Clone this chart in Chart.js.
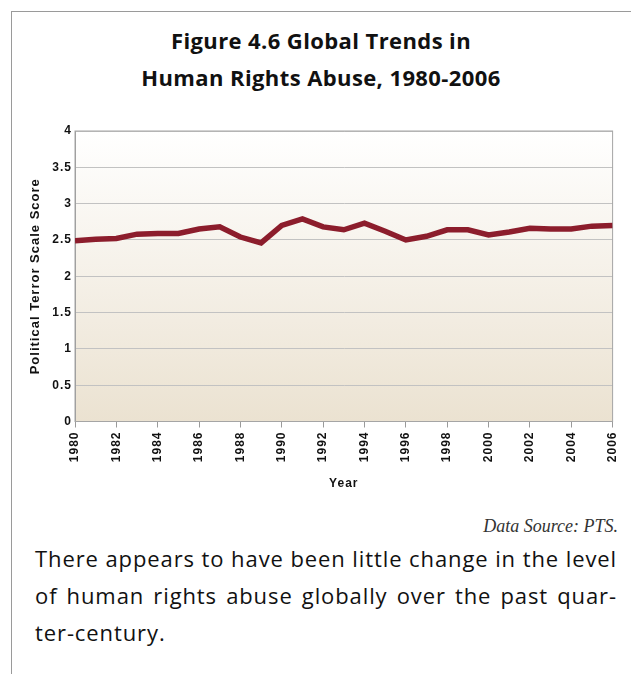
<!DOCTYPE html>
<html>
<head>
<meta charset="utf-8">
<script src="https://cdn.jsdelivr.net/npm/chart.js@4"></script>
<style>
  html, body { margin: 0; padding: 0; background: #fff; }
  body { width: 631px; height: 674px; position: relative; overflow: hidden; }
  .frame {
    position: absolute; left: 11px; top: 11px; width: 700px; height: 700px;
    border-top: 1px solid #9a9a9a; border-left: 1px solid #9a9a9a;
  }
  .title {
    position: absolute; left: 11px; top: 22px; width: 620px;
    text-align: center; font-family: "Open Sans", sans-serif; font-weight: 700;
    font-size: 22px; line-height: 37px; letter-spacing: 0.4px; color: #111;
  }
  .chart-box { position: absolute; left: 12px; top: 110px; width: 619px; height: 390px; }
  .source {
    position: absolute; right: 13px; top: 516px;
    font-family: "Liberation Serif", serif; font-style: italic;
    font-size: 18px; line-height: 20px; color: #333;
  }
  .body-text {
    position: absolute; left: 35px; top: 540px; width: 582px;
    font-family: "Open Sans", sans-serif; font-size: 22px; line-height: 37px;
    letter-spacing: 0.9px; color: #111;
  }
  .body-text span { display: block; text-align: justify; text-align-last: justify; }
  .body-text span.last { text-align-last: left; }
</style>
</head>
<body>
<div class="frame"></div>
<div class="title">Figure 4.6 Global Trends in<br>Human Rights Abuse, 1980-2006</div>
<div class="chart-box"><canvas id="chart"></canvas></div>
<div class="source">Data Source: PTS.</div>
<div class="body-text">
  <span>There appears to have been little change in the level</span>
  <span>of human rights abuse globally over the past quar-</span>
  <span class="last">ter-century.</span>
</div>
<script>
// Political Terror Scale, global average
const years = [1980, 1981, 1982, 1983, 1984, 1985, 1986, 1987, 1988, 1989,
  1990, 1991, 1992, 1993, 1994, 1995, 1996, 1997, 1998, 1999,
  2000, 2001, 2002, 2003, 2004, 2005, 2006];
const ptsScores = [2.49, 2.51, 2.52, 2.58, 2.59, 2.59, 2.65, 2.68, 2.54, 2.46,
  2.70, 2.79, 2.68, 2.64, 2.73, 2.62, 2.50, 2.55, 2.64, 2.64,
  2.57, 2.61, 2.66, 2.65, 2.65, 2.69, 2.70];
const yTickValues = [0, 0.5, 1, 1.5, 2, 2.5, 3, 3.5, 4];

const axisFont = { family: '"Liberation Sans", Arial, sans-serif', size: 12, weight: 'bold' };

// gradient fill behind the plot + box around it
const plotBackground = {
  id: 'plotBackground',
  beforeLayout(chart) { chart.ctx.letterSpacing = '1px'; },
  beforeDraw(chart) {
    const { ctx, chartArea: a } = chart;
    ctx.letterSpacing = '1px';
    const g = ctx.createLinearGradient(0, a.top, 0, a.bottom);
    g.addColorStop(0, '#ffffff');
    g.addColorStop(1, '#ebe2d1');
    ctx.save();
    ctx.fillStyle = g;
    ctx.fillRect(a.left, a.top, a.right - a.left, a.bottom - a.top);
    ctx.restore();
  },
  beforeDatasetsDraw(chart) {
    const { ctx, chartArea: a } = chart;
    ctx.save();
    ctx.strokeStyle = '#a5a5a5';
    ctx.lineWidth = 1;
    ctx.strokeRect(a.left, a.top, a.right - a.left, a.bottom - a.top);
    ctx.restore();
  }
};

new Chart(document.getElementById('chart'), {
  type: 'line',
  data: {
    datasets: [{
      data: years.map((y, i) => ({ x: y, y: ptsScores[i] })),
      borderColor: '#8c1d2c',
      borderWidth: 5.5,
      pointRadius: 0,
      tension: 0,
      fill: false
    }]
  },
  options: {
    responsive: true,
    maintainAspectRatio: false,
    animation: false,
    layout: { padding: { top: 21, right: 12, left: 0, bottom: 0 } },
    scales: {
      x: {
        type: 'linear',
        min: 1980,
        max: 2006,
        afterFit: s => { s.height = 78.5; },
        ticks: {
          stepSize: 2,
          autoSkip: false,
          minRotation: 90,
          maxRotation: 90,
          padding: 4,
          color: '#111',
          font: axisFont,
          callback: v => String(v)
        },
        grid: { drawOnChartArea: false, drawTicks: true, tickLength: 6, color: '#9a9a9a' },
        border: { color: '#9a9a9a' },
        title: { display: true, text: 'Year', color: '#111', font: axisFont, padding: { top: 4, bottom: 9 } }
      },
      y: {
        min: 0,
        max: 4,
        afterFit: s => { s.width = 63; },
        afterBuildTicks: s => { s.ticks = yTickValues.map(v => ({ value: v })); },
        ticks: {
          padding: 3,
          color: '#111',
          font: axisFont,
          callback: v => String(v)
        },
        grid: { color: '#c2c2c2', drawTicks: false },
        border: { color: '#9a9a9a' },
        title: {
          display: true,
          text: 'Political Terror Scale Score',
          color: '#111',
          font: { family: '"Liberation Sans", Arial, sans-serif', size: 13, weight: 'bold' },
          padding: { top: 16, bottom: 0 }
        }
      }
    },
    plugins: {
      legend: { display: false },
      tooltip: { enabled: false }
    }
  },
  plugins: [plotBackground]
});
</script>
</body>
</html>
